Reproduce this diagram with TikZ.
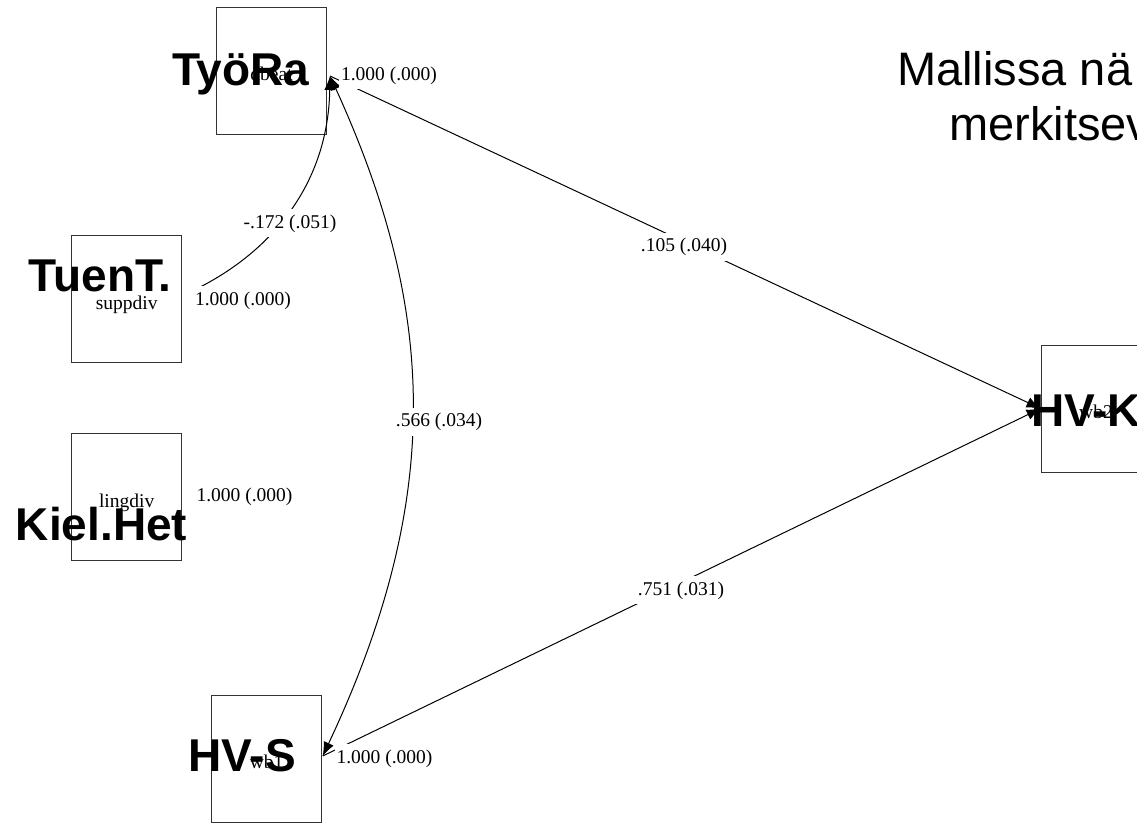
\documentclass[tikz,border=0pt]{standalone}
\usepackage{fontspec}
\setmainfont{Liberation Serif}
\newfontfamily\arialfont{Liberation Sans}
\usetikzlibrary{arrows.meta}
\begin{document}
\begin{tikzpicture}[x=1pt,y=-1pt,
  varbox/.style={draw=black!80, line width=1pt, minimum width=110pt, minimum height=127pt,
    inner sep=0pt, text height=20pt, text depth=0pt, font=\fontsize{19.5}{22}\selectfont},
  bigname/.style={font=\arialfont\bfseries\fontsize{46}{50}\selectfont, inner sep=0pt},
  est/.style={fill=white, font=\fontsize{19.5}{22}\selectfont, inner xsep=2pt, inner ysep=5pt, anchor=base},
  conn/.style={line width=1pt, -{Latex[length=14pt,width=11pt]}},
  corr/.style={line width=1pt, {Latex[length=14pt,width=11pt]}-{Latex[length=14pt,width=11pt]}},
  note/.style={font=\arialfont\fontsize{47}{54}\selectfont, inner sep=0pt, anchor=base west}
]
\useasboundingbox (0,0) rectangle (1137,822);
\clip (0,0) rectangle (1137,822);

% variable boxes
\node[varbox] (tyora) at (271.5,70.5) {dbeat};
\node[varbox] (tuent) at (126.7,299) {suppdiv};
\node[varbox] (kiel) at (126.7,497) {lingdiv};
\node[varbox] (hvs) at (266.7,758.5) {wb1};
\node[varbox] (hvk) at (1096,408.5) {wb2};

% connection points
\coordinate (tyoraP) at ([shift={(3,5.5)}]tyora.east);
\coordinate (tuentP) at ([shift={(14,-10)}]tuent.east);
\coordinate (hvsP) at ([shift={(0.5,-2.5)}]hvs.east);
\coordinate (hvkP) at (hvk.west);

% connectors
\draw[conn] (tyoraP) -- (hvkP);
\draw[conn] (hvsP) -- (hvkP);
\draw[conn] (tuentP) .. controls (265,255) and (328,190) .. (tyoraP);
\draw[corr] (tyoraP) .. controls (434,304) and (447,492) .. (hvsP);

% estimates
\node[est] (e1) at (389,80) {1.000 (.000)};
\node[est] (e2) at (243,305) {1.000 (.000)};
\node[est] (e3) at (244.5,501.7) {1.000 (.000)};
\node[est] (e4) at (384.5,763) {1.000 (.000)};
\node[est] (e5) at (290,228) {-.172 (.051)};
\node[est] (e6) at (684,251.7) {.105 (.040)};
\node[est] (e7) at (439,426.7) {.566 (.034)};
\node[est] (e8) at (681,595) {.751 (.031)};

% big names
\node[bigname, anchor=base] (ntyora) at (240.8,85) {TyöRa};
\node[bigname, anchor=base] (ntuent) at (100,291.7) {TuenT.};
\node[bigname, anchor=base] (nkiel) at (101.5,540.7) {Kiel.Het};
\node[bigname, anchor=base] (nhvs) at (242,771.7) {HV-S};
\node[bigname, anchor=base west] (nhvk) at (1031,426) {HV-K};

% note text
\node[note] (t1) at (897,85) {Mallissa nä};
\node[note] (t2) at (949,140) {merkitsev};
\end{tikzpicture}
\end{document}
